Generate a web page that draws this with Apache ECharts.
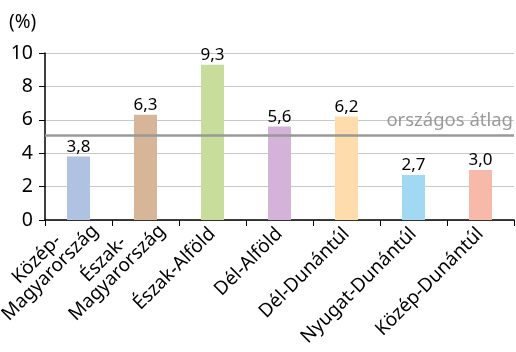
<!DOCTYPE html>
<html><head><meta charset="utf-8">
<script src="https://cdn.jsdelivr.net/npm/echarts@6/dist/echarts.min.js"></script>
<style>html,body{margin:0;padding:0;background:#fff}#c{width:516px;height:352px}</style>
</head><body><div id="c"></div>
<script>
const categories = ["Közép-\nMagyarország","Észak-\nMagyarország","Észak-Alföld","Dél-Alföld","Dél-Dunántúl","Nyugat-Dunántúl","Közép-Dunántúl"];
const values = [3.8, 6.3, 9.3, 5.6, 6.2, 2.7, 3.0];
const barColors = ["#b0c2e2","#d6b598","#c8dd9b","#d3b3d7","#fedcac","#a2d9f2","#f6b9aa"];
const averageValue = 5.1;
const averageLabel = "országos átlag";
const yTicks = [0, 2, 4, 6, 8, 10];
const unitLabel = "(%)";
const FONT = "Noto Sans";
const xData = categories.map(c => c.indexOf('\n') >= 0
  ? {value:c, textStyle:{padding:[0,-14,0,0]}}
  : c);
const chart = echarts.init(document.getElementById('c'), null, {renderer:'canvas'});
chart.setOption({
  animation:false,
  textStyle:{fontFamily:FONT},
  grid:{left:45, right:2, top:53, bottom:132, containLabel:false, outerBoundsMode:'none'},
  xAxis:{type:'category', data:xData,
    axisLine:{lineStyle:{color:'#000', width:1.5}},
    axisTick:{show:true, length:6, interval:0, lineStyle:{color:'#000', width:1}},
    axisLabel:{rotate:45, interval:0, fontSize:19, color:'#000', fontFamily:FONT, margin:11, lineHeight:19,
      formatter:v=>v.split('\n').map(s=>'{c|'+s+'}').join('\n'),
      rich:{c:{align:'center', fontSize:19, fontFamily:FONT, color:'#000', lineHeight:19}}
    }
  },
  yAxis:{type:'value', min:yTicks[0], max:yTicks[yTicks.length-1], interval:2,
    name:unitLabel, nameLocation:'end', nameGap:21,
    nameTextStyle:{fontSize:19, color:'#000', fontFamily:FONT, align:'left', padding:[0,0,0,-36]},
    axisLine:{show:true, lineStyle:{color:'#000', width:1.5}},
    axisTick:{show:true, length:6, lineStyle:{color:'#000'}},
    axisLabel:{fontSize:19.5, color:'#000', fontFamily:FONT, margin:12},
    splitLine:{lineStyle:{color:'#c8c8c8', width:1}}
  },
  series:[{type:'bar', data:values.map((v,i)=>({value:v, itemStyle:{color:barColors[i]}})),
    barWidth:23,
    label:{show:true, position:'top', fontSize:17, color:'#000', fontFamily:FONT, distance:1,
      formatter:p=>p.value.toFixed(1).replace('.',',')},
    markLine:{silent:true, symbol:['none','none'],
      lineStyle:{color:'#999', width:2.5, type:'solid'},
      label:{show:true, position:'insideEndTop', formatter:averageLabel, fontSize:18.5, color:'#999', fontFamily:FONT, distance:[1,5]},
      data:[{yAxis:averageValue}]
    }
  }]
});
</script></body></html>
